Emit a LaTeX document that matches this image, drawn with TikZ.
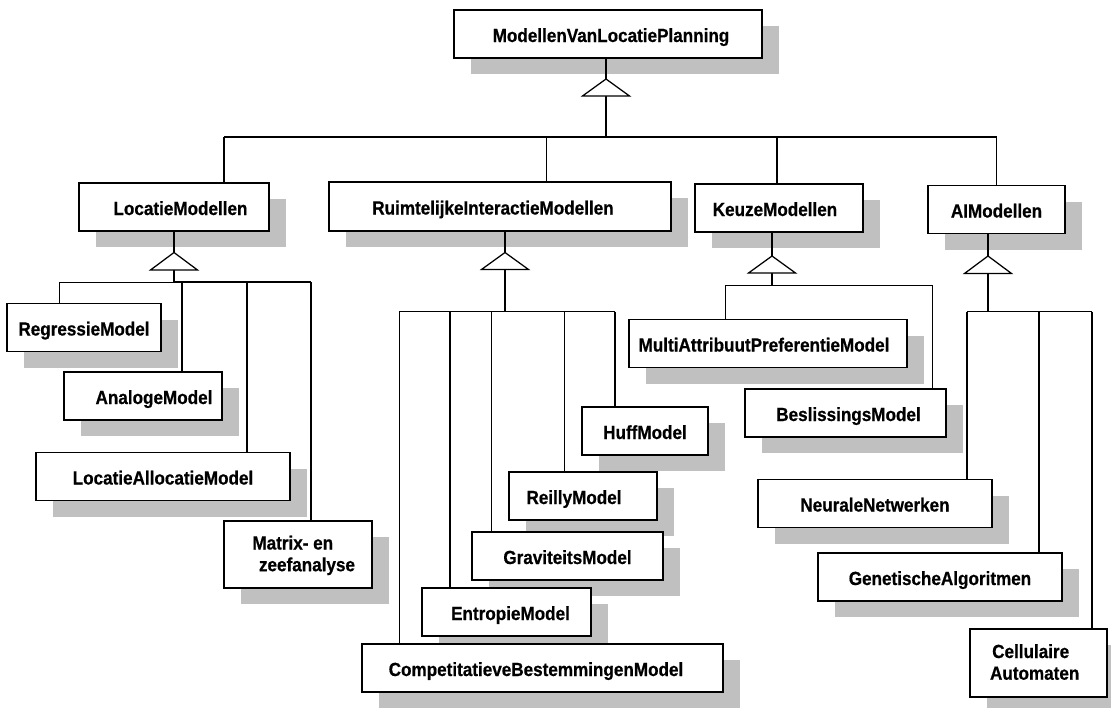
\documentclass[tikz,border=0pt]{standalone}
\usepackage{fontspec}
\setmainfont[FakeStretch=0.9,BoldFeatures={FakeBold=0.6}]{Liberation Sans}
\usetikzlibrary{shadows,calc}
\definecolor{shadowgray}{RGB}{192,192,192}

\begin{document}
\begin{tikzpicture}[x=1pt,y=-1pt,
  cls/.style={draw=black, line width=1.3pt, fill=white, inner sep=0pt,
    minimum height=48pt,
    font=\fontsize{19}{21.7}\selectfont\bfseries,
    text height=16pt, text depth=0pt,
    drop shadow={shadow xshift=17pt, shadow yshift=-16pt,
      fill=shadowgray, opacity=1, draw=none}},
  cls2/.style={cls, align=center, text height=33.4pt, text depth=0pt},
  conn/.style={line width=1.25pt},
  thinconn/.style={line width=0.9pt},
  gen/.style={draw=black, line width=1.25pt, fill=white, line join=miter}]

\clip (0,0) rectangle (1111,707);
\fill[white] (0,0) rectangle (1111,707);

% generalisation arrow head: open triangle from apex to base
\newcommand\genhead[1]{%
  \draw[gen] (#1-apex) -- ($(#1-base)+(-23.5,0)$) -- ($(#1-base)+(23.5,0)$) -- cycle;}

% ---------- classes ----------
\node[cls, minimum width=308pt] (root) at (608,34) {\hspace*{6pt}ModellenVanLocatiePlanning};

\node[cls, minimum width=190pt] (lm) at (174,207) {\hspace*{13pt}LocatieModellen};
\node[cls, minimum width=342pt, minimum height=49pt] (rim) at (500,206.5) {RuimtelijkeInteractieModellen\hspace*{14pt}};
\node[cls, minimum width=168pt] (km) at (779,208) {KeuzeModellen\hspace*{8pt}};
\node[cls, minimum width=137pt] (aim) at (996.5,209.5) {AIModellen};

\node[cls, minimum width=154pt] (regr) at (84,327.5) {RegressieModel};
\node[cls, minimum width=158pt] (anal) at (143,396) {\hspace*{22pt}AnalogeModel};
\node[cls, minimum width=254pt] (locall) at (163,476.5) {LocatieAllocatieModel};
\node[cls2, minimum width=148pt, minimum height=67pt] (matrix) at (298,554.5)
  {Matrix- en\hspace*{10.4pt}\\\hspace*{18pt}zeefanalyse};

\node[cls, minimum width=126pt] (huff) at (645,431) {HuffModel};
\node[cls, minimum width=148pt] (reilly) at (583,496) {ReillyModel\hspace*{18pt}};
\node[cls, minimum width=191pt] (grav) at (567.5,556) {GraviteitsModel};
\node[cls, minimum width=169pt] (entr) at (506.5,612) {\hspace*{8pt}EntropieModel};
\node[cls, minimum width=361pt] (comp) at (542.5,668) {CompetitatieveBestemmingenModel\hspace*{13pt}};

\node[cls, minimum width=278pt] (multi) at (768,343.5) {MultiAttribuutPreferentieModel\hspace*{8pt}};
\node[cls, minimum width=201pt] (besl) at (845.5,413) {\hspace*{6pt}BeslissingsModel};

\node[cls, minimum width=234pt] (neur) at (875,503.5) {NeuraleNetwerken};
\node[cls, minimum width=244pt] (gen) at (940,577) {GenetischeAlgoritmen};
\node[cls2, minimum width=137pt, minimum height=68pt] (cell) at (1038.5,663)
  {Cellulaire\hspace*{15.6pt}\\Automaten\hspace*{7.6pt}};

% ---------- junction points ----------
\coordinate (root-apex) at (606,79);
\coordinate (root-base) at (606,96);
\coordinate (root-hub)  at (606,137);
\coordinate (t-lm)  at (224,137);
\coordinate (t-rim) at (546,137);
\coordinate (t-km)  at (777,137);
\coordinate (t-aim) at (996.5,137);

\coordinate (lm-apex) at (174,252.5);
\coordinate (lm-base) at (174,270);
\coordinate (lm-hub)  at (174,282);
\coordinate (l-regr)   at (59,282);
\coordinate (l-anal)   at (182,282);
\coordinate (l-locall) at (247,282);
\coordinate (l-matrix) at (311,282);

\coordinate (rim-apex) at (505,252.5);
\coordinate (rim-base) at (505,269.5);
\coordinate (rim-hub)  at (505,311.7);
\coordinate (r-comp)   at (399,311.7);
\coordinate (r-entr)   at (450,311.7);
\coordinate (r-grav)   at (491,311.7);
\coordinate (r-reilly) at (564,311.7);
\coordinate (r-huff)   at (615,311.7);

\coordinate (km-apex) at (772,256);
\coordinate (km-base) at (772,273);
\coordinate (km-hub)  at (772,285);
\coordinate (k-multi) at (725,285);
\coordinate (k-besl)  at (932,285);

\coordinate (aim-apex) at (988,256);
\coordinate (aim-base) at (988,273.5);
\coordinate (aim-hub)  at (988,311.7);
\coordinate (a-neur) at (967,311.7);
\coordinate (a-gen)  at (1039,311.7);
\coordinate (a-cell) at (1092,311.7);

% ---------- top level ----------
\draw[conn] (root.south -| root-apex) -- (root-apex);
\draw[conn] (root-base) -- (root-hub);
\draw[conn] (t-lm) -- (t-aim);
\draw[conn] (t-lm) -- (t-lm |- lm.north);
\draw[thinconn] (t-rim) -- (t-rim |- rim.north);
\draw[conn] (t-km) -- (t-km |- km.north);
\draw[conn] (t-aim) -- (t-aim |- aim.north);
\genhead{root}

% ---------- LocatieModellen ----------
\draw[conn] (lm.south -| lm-apex) -- (lm-apex);
\draw[conn] (lm-base) -- (lm-hub);
\draw[thinconn] (l-regr) -- (lm-hub);
\draw[conn] (lm-hub) -- (l-matrix);
\draw[thinconn] (l-regr) -- (l-regr |- regr.north);
\draw[conn] (l-anal) -- (l-anal |- anal.north);
\draw[conn] (l-locall) -- (l-locall |- locall.north);
\draw[conn] (l-matrix) -- (l-matrix |- matrix.north);
\genhead{lm}

% ---------- RuimtelijkeInteractieModellen ----------
\draw[conn] (rim.south -| rim-apex) -- (rim-apex);
\draw[conn] (rim-base) -- (rim-hub);
\draw[thinconn] (r-comp) -- (r-entr);
\draw[conn] (r-entr) -- (r-huff);
\draw[thinconn] (r-comp) -- (r-comp |- comp.north);
\draw[conn] (r-entr) -- (r-entr |- entr.north);
\draw[thinconn] (r-grav) -- (r-grav |- grav.north);
\draw[thinconn] (r-reilly) -- (r-reilly |- reilly.north);
\draw[conn] (r-huff) -- (r-huff |- huff.north);
\genhead{rim}

% ---------- KeuzeModellen ----------
\draw[conn] (km.south -| km-apex) -- (km-apex);
\draw[conn] (km-base) -- (km-hub);
\draw[thinconn] (k-multi) -- (k-besl);
\draw[thinconn] (k-multi) -- (k-multi |- multi.north);
\draw[thinconn] (k-besl) -- (k-besl |- besl.north);
\genhead{km}

% ---------- AIModellen ----------
\draw[conn] (aim.south -| aim-apex) -- (aim-apex);
\draw[conn] (aim-base) -- (aim-hub);
\draw[conn] (a-neur) -- (a-cell);
\draw[conn] (a-neur) -- (a-neur |- neur.north);
\draw[conn] (a-gen) -- (a-gen |- gen.north);
\draw[conn] (a-cell) -- (a-cell |- cell.north);
\genhead{aim}

\end{tikzpicture}
\end{document}
